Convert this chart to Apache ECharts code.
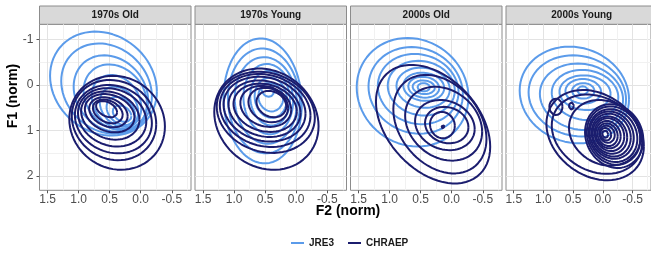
<!DOCTYPE html>
<html>
<head>
<meta charset="utf-8">
<script src="https://cdn.jsdelivr.net/npm/echarts@6/dist/echarts.min.js"></script>
<style>
  html, body { margin: 0; padding: 0; background: #fff; }
  #chart { width: 651px; height: 256px; }
</style>
</head>
<body>
<div id="chart"></div>
<script>
const panelTitles = ['1970s Old', '1970s Young', '2000s Old', '2000s Young']
const groupNames = ['JRE3', 'CHRAEP']
const groupColors = ['#5b9bea', '#1b1d6e']
const xTickValues = [-0.5, 0, 0.5, 1, 1.5]
const xMinorValues = [-0.75, -0.25, 0.25, 0.75, 1.25]
const yTickValues = [-1, 0, 1, 2]
const yMinorValues = [-0.5, 0.5, 1.5]

// contour rings:
// [centre F2, centre F1, half extent F2, half extent F1, slant (>0 leans top-left to bottom-right)]
const old70Jre3 = [
  [0.60, -0.03, 0.86, 1.14, 0.15],
  [0.55, 0.08, 0.73, 0.99, 0.17],
  [0.48, 0.19, 0.60, 0.84, 0.18],
  [0.41, 0.27, 0.51, 0.72, 0.20],
  [0.39, 0.37, 0.40, 0.59, 0.22],
  [0.35, 0.48, 0.31, 0.44, 0.25],
  [0.32, 0.57, 0.23, 0.31, 0.28],
  [0.30, 0.63, 0.15, 0.18, 0.30]
]
const old70Chraep = [
  [0.38, 0.83, 0.77, 1.03, 0.08],
  [0.43, 0.77, 0.68, 0.88, 0.10],
  [0.44, 0.75, 0.62, 0.75, 0.12],
  [0.46, 0.71, 0.55, 0.64, 0.15],
  [0.49, 0.67, 0.47, 0.53, 0.18],
  [0.50, 0.62, 0.40, 0.42, 0.22],
  [0.52, 0.60, 0.31, 0.33, 0.25],
  [0.53, 0.58, 0.24, 0.26, 0.30],
  [0.55, 0.53, 0.17, 0.18, 0.40]
]
const young70Jre3 = [
  [0.54, 0.35, 0.63, 1.37, 0.05],
  [0.52, 0.35, 0.58, 1.15, 0.05],
  [0.49, 0.34, 0.50, 0.95, 0.06],
  [0.45, 0.31, 0.40, 0.77, 0.06],
  [0.42, 0.29, 0.32, 0.60, 0.07],
  [0.41, 0.28, 0.26, 0.44, 0.07],
  [0.41, 0.27, 0.20, 0.31, 0.07],
  [0.46, 0.11, 0.10, 0.15, 0.2]
]
const young70Chraep = [
  [0.48, 0.75, 0.84, 1.11, 0.14],
  [0.49, 0.60, 0.79, 0.89, 0.14],
  [0.50, 0.56, 0.73, 0.80, 0.14],
  [0.51, 0.53, 0.66, 0.71, 0.14],
  [0.51, 0.52, 0.58, 0.62, 0.15],
  [0.50, 0.50, 0.51, 0.53, 0.16],
  [0.49, 0.47, 0.41, 0.45, 0.17],
  [0.45, 0.44, 0.32, 0.38, 0.18],
  [0.40, 0.42, 0.24, 0.29, 0.18]
]
const old00Jre3 = [
  [0.63, 0.16, 0.90, 1.19, 0.09],
  [0.58, 0.12, 0.76, 0.95, 0.09],
  [0.54, 0.09, 0.65, 0.77, 0.09],
  [0.49, 0.07, 0.54, 0.60, 0.09],
  [0.46, 0.06, 0.43, 0.44, 0.09],
  [0.45, 0.04, 0.33, 0.31, 0.09],
  [0.45, 0.05, 0.25, 0.23, 0.09],
  [0.45, 0.05, 0.18, 0.15, 0.09],
  [0.45, 0.05, 0.10, 0.09, 0.05]
]
const old00Chraep = [
  [0.30, 0.86, 0.92, 1.30, 0.38],
  [0.19, 0.86, 0.75, 1.08, 0.30],
  [0.13, 0.85, 0.62, 0.81, 0.22],
  [0.11, 0.88, 0.48, 0.55, 0.16],
  [0.08, 0.88, 0.35, 0.40, 0.12],
  [0.15, 0.88, 0.20, 0.29, 0.06],
  [0.14, 0.92, 0.025, 0.035, 0]
]
const young00Jre3 = [
  [0.48, 0.22, 0.92, 1.06, 0.09],
  [0.43, 0.24, 0.82, 0.89, 0.09],
  [0.36, 0.26, 0.70, 0.73, 0.09],
  [0.30, 0.22, 0.56, 0.55, 0.09],
  [0.30, 0.17, 0.43, 0.38, 0.06],
  [0.33, 0.14, 0.30, 0.27, 0.03],
  [0.33, 0.13, 0.19, 0.17, 0],
  [0.34, 0.12, 0.09, 0.09, 0]
]
const young00Chraep = [
  [0.13, 1.10, 0.82, 0.99, 0.25],
  [0.10, 1.08, 0.76, 0.87, 0.22],
  [-0.03, 1.05, 0.60, 0.72, 0.16],
  [0.79, 0.48, 0.11, 0.18, 0],
  [0.53, 0.46, 0.04, 0.08, 0],
  [-0.19, 1.12, 0.49, 0.70, 0.12],
  [-0.18, 1.11, 0.45, 0.64, 0.12],
  [-0.17, 1.11, 0.41, 0.58, 0.12],
  [-0.15, 1.10, 0.37, 0.52, 0.12],
  [-0.14, 1.10, 0.33, 0.47, 0.12],
  [-0.12, 1.10, 0.29, 0.41, 0.12],
  [-0.11, 1.09, 0.25, 0.36, 0.12],
  [-0.09, 1.09, 0.21, 0.30, 0.12],
  [-0.08, 1.09, 0.17, 0.25, 0.12],
  [-0.07, 1.08, 0.13, 0.19, 0.12],
  [-0.05, 1.08, 0.09, 0.14, 0.12],
  [-0.04, 1.08, 0.05, 0.08, 0.12]
]
const panelRings = [
  [old70Jre3, old70Chraep],
  [young70Jre3, young70Chraep],
  [old00Jre3, old00Chraep],
  [young00Jre3, young00Chraep]
]

// layout
const panelLeft = [39.5, 195, 350.5, 506]
const panelWidth = 151.5
const panelTop = 24.3
const panelHeight = 166
const stripTop = 6

// closed ring inside the bounding box, leaning by the slant (F2 axis is reversed)
function ringPoints (ring) {
  const [cx, cy, hx, hy, slant] = ring
  const lag = Math.acos(slant)
  const pts = []
  for (let i = 0; i <= 72; i++) {
    const t = i / 72 * Math.PI * 2
    pts.push([cx - hx * Math.cos(t), cy + hy * Math.cos(t - lag)])
  }
  return pts
}

const grid = []
const xAxis = []
const yAxis = []
const series = []
const graphic = []
const fontFamily = '"Liberation Sans", Arial, sans-serif'

panelTitles.forEach((title, p) => {
  grid.push({
    left: panelLeft[p], top: panelTop, width: panelWidth, height: panelHeight,
    show: true, backgroundColor: '#fff', borderColor: '#8c8c8c', borderWidth: 1
  })
  // major axis: ticks, labels, major grid lines
  xAxis.push({
    type: 'value', gridIndex: p, inverse: true, min: -0.81, max: 1.63, position: 'bottom',
    axisLine: { show: false, onZero: false },
    axisTick: { show: true, customValues: xTickValues, length: 3, lineStyle: { color: '#555' } },
    axisLabel: {
      customValues: xTickValues, color: '#4d4d4d', fontSize: 12, margin: 3, fontFamily,
      formatter: v => v.toFixed(1)
    },
    splitLine: { show: true, lineStyle: { color: '#e3e3e3', width: 1 } }
  })
  // minor grid lines
  xAxis.push({
    type: 'value', gridIndex: p, inverse: true, min: -0.81, max: 1.63, position: 'bottom',
    axisLine: { show: false, onZero: false },
    axisTick: { show: false, customValues: xMinorValues },
    axisLabel: { show: false },
    splitLine: { show: true, lineStyle: { color: '#f1f1f1', width: 1 } }
  })
  yAxis.push({
    type: 'value', gridIndex: p, inverse: true, min: -1.33, max: 2.31, position: 'left',
    axisLine: { show: false, onZero: false },
    axisTick: { show: p === 0, customValues: yTickValues, length: 3, lineStyle: { color: '#555' } },
    axisLabel: { show: p === 0, customValues: yTickValues, color: '#4d4d4d', fontSize: 12, margin: 6, fontFamily },
    splitLine: { show: true, lineStyle: { color: '#e3e3e3', width: 1 } }
  })
  yAxis.push({
    type: 'value', gridIndex: p, inverse: true, min: -1.33, max: 2.31, position: 'left',
    axisLine: { show: false, onZero: false },
    axisTick: { show: false, customValues: yMinorValues },
    axisLabel: { show: false },
    splitLine: { show: true, lineStyle: { color: '#f1f1f1', width: 1 } }
  })

  panelRings[p].forEach((rings, g) => {
    rings.forEach(ring => {
      series.push({
        type: 'line',
        name: groupNames[g],
        xAxisIndex: p * 2,
        yAxisIndex: p * 2,
        data: ringPoints(ring),
        symbol: 'none',
        silent: true,
        z: 2 + g,
        lineStyle: { color: groupColors[g], width: 2 },
        itemStyle: { color: groupColors[g] }
      })
    })
  })

  // facet strip
  graphic.push({
    type: 'rect',
    shape: { x: panelLeft[p], y: stripTop, width: panelWidth, height: panelTop - stripTop },
    style: { fill: '#d9d9d9', stroke: '#8c8c8c', lineWidth: 1 }
  })
  graphic.push({
    type: 'text',
    x: panelLeft[p] + panelWidth / 2, y: (stripTop + panelTop) / 2,
    style: {
      text: title, fill: '#1a1a1a', font: 'bold 10px ' + fontFamily,
      align: 'center', verticalAlign: 'middle'
    }
  })
})

// axis titles
graphic.push({
  type: 'text', x: 348, y: 211,
  style: { text: 'F2 (norm)', fill: '#000', font: 'bold 14px ' + fontFamily, align: 'center', verticalAlign: 'middle' }
})
graphic.push({
  type: 'text', x: 13, y: 96, rotation: Math.PI / 2,
  style: { text: 'F1 (norm)', fill: '#000', font: 'bold 14px ' + fontFamily, align: 'center', verticalAlign: 'middle' }
})

const chart = echarts.init(document.getElementById('chart'))
chart.setOption({
  animation: false,
  grid,
  xAxis,
  yAxis,
  series,
  graphic,
  legend: {
    data: groupNames,
    top: 233,
    left: 286,
    icon: 'rect',
    itemWidth: 13,
    itemHeight: 2,
    itemGap: 14,
    textStyle: { fontSize: 10, fontWeight: 'bold', color: '#1a1a1a', fontFamily }
  }
})
</script>
</body>
</html>
